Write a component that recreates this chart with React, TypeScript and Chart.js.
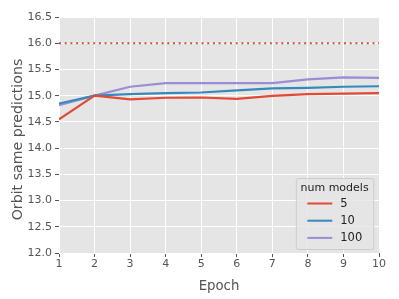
import React, { useEffect, useRef } from "react";
import { Chart, registerables } from "chart.js";
Chart.register(...registerables);

const epochs = [1, 2, 3, 4, 5, 6, 7, 8, 9, 10];
const seriesNames = ["5", "10", "100"];
const values5 = [14.55, 15.0, 14.93, 14.96, 14.965, 14.94, 14.995, 15.03, 15.04, 15.05];
const values10 = [14.85, 15.0, 15.03, 15.05, 15.06, 15.1, 15.14, 15.15, 15.17, 15.18];
const values100 = [14.82, 15.0, 15.17, 15.24, 15.24, 15.24, 15.24, 15.31, 15.35, 15.34];
const referenceValue = 16.0;
const colors = ["#E24A33", "#348ABD", "#988ED5"];
const legendTitle = "num models";
const yTitle = "Orbit same predictions";
const FONT = "'DejaVu Sans', sans-serif";

export default function App() {
  const ref = useRef<HTMLCanvasElement>(null);
  useEffect(() => {
    const bgPlugin = {
      id: "bg",
      beforeDraw(chart: any) {
        const { ctx, chartArea: a } = chart;
        ctx.save();
        ctx.fillStyle = "#E5E5E5";
        ctx.fillRect(a.left, a.top, a.right - a.left, a.bottom - a.top);
        ctx.restore();
      },
      afterDraw(chart: any) {
        const { ctx, chartArea: a } = chart;
        ctx.save();
        ctx.translate(18.5, (a.top + a.bottom) / 2 + 4.5);
        ctx.rotate(-Math.PI / 2);
        ctx.fillStyle = "#555555";
        ctx.font = `14.2px ${FONT}`;
        ctx.textAlign = "center";
        ctx.textBaseline = "middle";
        ctx.fillText(yTitle, 0, 0);
        ctx.restore();
      },
    };
    const legendPlugin = {
      id: "customLegend",
      afterDatasetsDraw(chart: any) {
        const { ctx, chartArea: a } = chart;
        const w = 77.5, h = 71;
        const x0 = a.right - 5.7 - w;
        const y0 = a.bottom - 4 - h;
        ctx.save();
        ctx.fillStyle = "rgba(229,229,229,0.8)";
        ctx.strokeStyle = "#CCCCCC";
        ctx.lineWidth = 1;
        ctx.beginPath();
        if ((ctx as any).roundRect) (ctx as any).roundRect(x0 + 0.5, y0 + 0.5, w, h, 2);
        else ctx.rect(x0 + 0.5, y0 + 0.5, w, h);
        ctx.fill();
        ctx.stroke();
        ctx.fillStyle = "#222";
        ctx.font = `11px ${FONT}`;
        ctx.textAlign = "center";
        ctx.textBaseline = "middle";
        ctx.fillText(legendTitle, x0 + w / 2, y0 + 10.5);
        ctx.textAlign = "left";
        ctx.font = `11.5px ${FONT}`;
        seriesNames.forEach((n, i) => {
          const yy = y0 + 25.5 + i * 17.2;
          ctx.strokeStyle = colors[i];
          ctx.lineWidth = 2;
          ctx.beginPath();
          ctx.moveTo(x0 + 11.5, yy);
          ctx.lineTo(x0 + 36.5, yy);
          ctx.stroke();
          ctx.fillStyle = "#222";
          ctx.fillText(n, x0 + 44.5, yy + 0.5);
        });
        ctx.restore();
      },
    };
    const mk = (arr: number[]) => epochs.map((e, i) => ({ x: e, y: arr[i] }));
    const chart = new Chart(ref.current!, {
      type: "line",
      data: {
        datasets: [
          { label: seriesNames[0], data: mk(values5), borderColor: colors[0], borderWidth: 2.2, pointRadius: 0, tension: 0 },
          { label: seriesNames[1], data: mk(values10), borderColor: colors[1], borderWidth: 2.2, pointRadius: 0, tension: 0 },
          { label: seriesNames[2], data: mk(values100), borderColor: colors[2], borderWidth: 2.2, pointRadius: 0, tension: 0 },
          {
            label: "ref",
            data: [{ x: epochs[0], y: referenceValue }, { x: epochs[epochs.length - 1], y: referenceValue }],
            borderColor: colors[0],
            borderWidth: 2,
            borderDash: [2, 3.7],
            pointRadius: 0,
          },
        ],
      },
      options: {
        animation: false,
        responsive: false,
        maintainAspectRatio: false,
        layout: { autoPadding: false, padding: { left: 0, top: 17, right: 20, bottom: 0 } },
        plugins: { legend: { display: false }, tooltip: { enabled: false } },
        scales: {
          x: {
            type: "linear",
            min: 1,
            max: 10,
            border: { display: false },
            grid: { color: "#FFFFFF", lineWidth: 1, tickLength: 4, tickColor: "#555555" },
            ticks: { stepSize: 1, color: "#555555", font: { family: FONT, size: 11 }, padding: 1 },
            title: { display: true, text: "Epoch", color: "#555555", font: { family: FONT, size: 13.3 }, padding: { top: 0 } },
            afterFit(s: any) { s.height = 46; },
          },
          y: {
            min: 12,
            max: 16.5,
            border: { display: false },
            grid: { color: "#FFFFFF", lineWidth: 1, tickLength: 4, tickColor: "#555555" },
            ticks: {
              stepSize: 0.5,
              color: "#555555",
              font: { family: FONT, size: 11 },
              padding: 3,
              callback: (v: any) => Number(v).toFixed(1),
            },
            title: { display: false },
            afterFit(s: any) { s.width = 59; },
          },
        },
      },
      plugins: [bgPlugin, legendPlugin],
    } as any);
    return () => chart.destroy();
  }, []);
  return (
    <div style={{ position: "fixed", left: 0, top: 0, width: 399, height: 299, background: "#fff" }}>
      <canvas ref={ref} width={399} height={299} style={{ width: 399, height: 299, display: "block" }} />
    </div>
  );
}
